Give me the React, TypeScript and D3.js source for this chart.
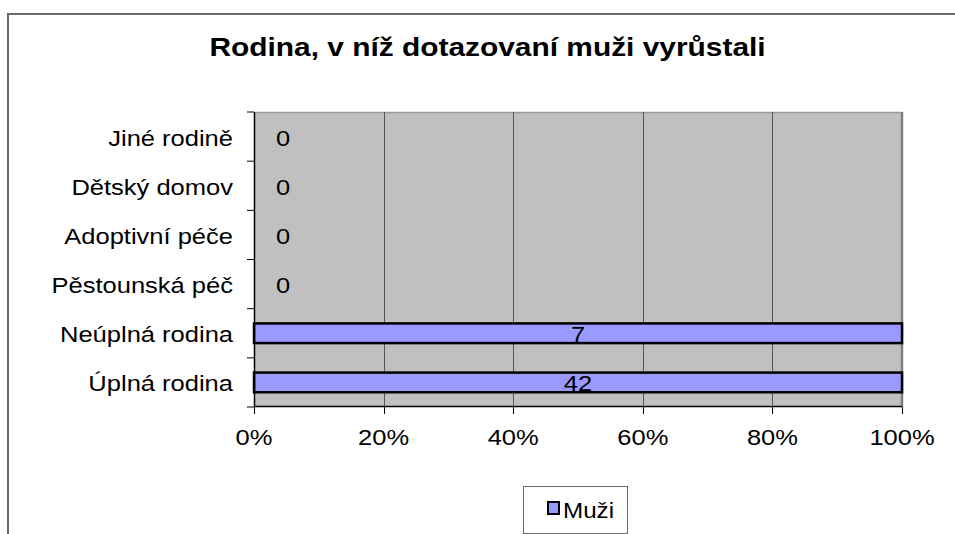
import React from 'react'
import * as d3 from 'd3';

const categories = ['Jiné rodině', 'Dětský domov', 'Adoptivní péče', 'Pěstounská péč', 'Neúplná rodina', 'Úplná rodina'];
const muzi = [0, 0, 0, 0, 7, 42];
const xTicks = [0, 0.2, 0.4, 0.6, 0.8, 1];
const seriesName = 'Muži';
const title = 'Rodina, v níž dotazovaní muži vyrůstali';

const FONT = 'Arial, "Liberation Sans", sans-serif';

// the original export has horizontally stretched text, so stretch with sx
const Txt = ({ x, y, sx = 1.16, size = 22, anchor = 'start', bold = false, children }: any) => (
  <text transform={`translate(${x},${y}) scale(${sx},1)`} textAnchor={anchor} fontFamily={FONT}
    fontWeight={bold ? 'bold' : 'normal'} fontSize={size} fill="#000">{children}</text>
)

const App = () => {
  const x = d3.scaleLinear().domain([0, 1]).range([254, 902]);
  const y = d3.scaleBand().domain(categories).range([112, 407]);
  const step = y.step();
  const fmt = d3.format('.0%');

  // one series -> share of the stack is 100% unless the value is zero
  const share = muzi.map(v => (v > 0 ? v / v : 0));

  return (
    <svg width={955} height={534} style={{ position: 'absolute', left: 0, top: 0, background: '#fff' }}>
      {/* chart border, runs off right and bottom */}
      <path d="M8,534 V14 H955" fill="none" stroke="#6b6b6b" strokeWidth={2} />

      <Txt x={487.5} y={56} size={26} sx={1.15} anchor="middle" bold>{title}</Txt>

      {/* plot area */}
      <rect x={x(0)} y={112} width={x(1) - x(0)} height={407 - 112} fill="#c0c0c0" />
      <line x1={x(0)} x2={x(1)} y1={112.5} y2={112.5} stroke="#999" strokeWidth={1.5} />
      <line x1={x(1)} x2={x(1)} y1={112} y2={407} stroke="#808080" strokeWidth={2.5} />

      {xTicks.slice(1, -1).map(t => (
        <line key={t} x1={Math.round(x(t)) + 0.5} x2={Math.round(x(t)) + 0.5} y1={112} y2={407} stroke="#555" strokeWidth={1} />
      ))}

      {/* bars */}
      {categories.map((c, i) => share[i] > 0 && (
        <rect key={c} x={x(0)} y={(y(c) as number) + step * 0.3} width={x(share[i]) - x(0)} height={step * 0.4}
          fill="#9999ff" stroke="#000" strokeWidth={2.5} />
      ))}

      {/* data labels */}
      {categories.map((c, i) => (
        <Txt key={c} x={share[i] > 0 ? x(share[i] / 2) : x(0) + 29} y={(y(c) as number) + step / 2 + 9}
          anchor="middle">{muzi[i]}</Txt>
      ))}

      {/* axes */}
      <line x1={254.5} x2={254.5} y1={112} y2={407} stroke="#000" strokeWidth={1.5} />
      <line x1={254} x2={902} y1={406.5} y2={406.5} stroke="#000" strokeWidth={1.5} />
      {y.domain().map(c => (
        <line key={c} x1={247} x2={254} y1={(y(c) as number)} y2={(y(c) as number)} stroke="#000" strokeWidth={1} />
      ))}
      <line x1={247} x2={254} y1={407} y2={407} stroke="#000" strokeWidth={1} />
      {xTicks.map(t => (
        <g key={t}>
          <line x1={Math.round(x(t)) + 0.5} x2={Math.round(x(t)) + 0.5} y1={407} y2={414} stroke="#000" strokeWidth={1} />
          <Txt x={x(t)} y={445} anchor="middle">{fmt(t)}</Txt>
        </g>
      ))}
      {categories.map(c => (
        <Txt key={c} x={233} y={(y(c) as number) + step / 2 + 9} anchor="end">{c}</Txt>
      ))}

      {/* legend */}
      <rect x={523.5} y={486.5} width={104} height={47} fill="#fff" stroke="#6b6b6b" strokeWidth={1} />
      <rect x={548} y={502} width={11} height={12} fill="#9999ff" stroke="#000" strokeWidth={2} />
      <Txt x={563} y={518} sx={1.1}>{seriesName}</Txt>
    </svg>
  )
}

export default App
